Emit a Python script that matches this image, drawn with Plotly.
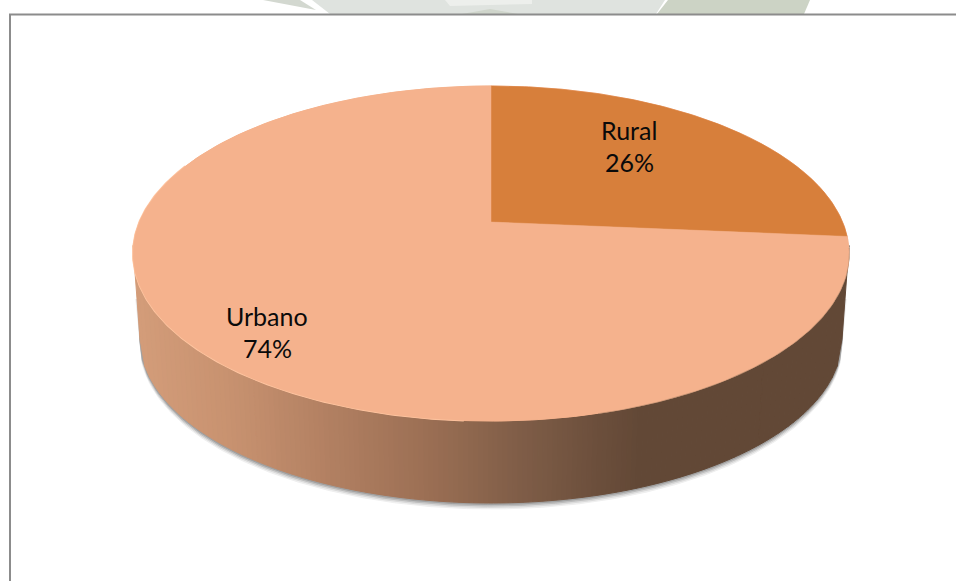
import numpy as np
import plotly.graph_objects as go

# share of population by area
categories = ["Rural", "Urbano"]
values = [26.4, 73.6]
labels = ["26%", "74%"]
colors = ["#D77F3B", "#F5B28D"]

W, H = 956, 581

# top face: circle seen in perspective, apex of the wedges at (CX, CY)
CX, CY = 491, 222
A, B, K = 351.6, 161.6, 0.188
# bottom rim of the wall
CX2, CY2, RX2, RY2 = 491, 339, 351, 164


def rim(theta):
    # theta clockwise from 12 o'clock
    u, v = np.sin(theta), np.cos(theta)
    w = 1 + K * v
    return CX + A * u / w, CY - B * v / w


def top_front(x):
    # front edge of the top face, from its ellipse
    return 253.5 + 167.5 * np.sqrt(np.clip(1 - ((x - 491) / 358) ** 2, 0, 1))


def bottom_front(x, dy=0.0):
    return CY2 + dy + RY2 * np.sqrt(np.clip(1 - ((x - CX2) / RX2) ** 2, 0, 1))


def wall_color(x):
    stops_x = [133, 230, 330, 430, 520, 600, 645, 849]
    stops_r = [212, 200, 178, 155, 128, 108, 98, 98]
    stops_g = [157, 146, 128, 111, 94, 79, 72, 72]
    stops_b = [122, 112, 98, 84, 72, 60, 54, 54]
    return "rgb(%d,%d,%d)" % (np.interp(x, stops_x, stops_r),
                              np.interp(x, stops_x, stops_g),
                              np.interp(x, stops_x, stops_b))


fig = go.Figure()

# soft shadow under the wall
for off, col in [(6, "#EFEFEF"), (4.5, "#DADADA"), (3, "#BDBDBD"), (1.5, "#A0A0A0")]:
    xs = np.linspace(CX2 - RX2, CX2 + RX2, 300)
    ys = bottom_front(xs, off)
    xx = np.concatenate([[CX2 - RX2 - off * 0.7], xs, [CX2 + RX2 + off * 0.7]])
    yy = np.concatenate([[CY2 - 40], ys, [CY2 - 40]])
    fig.add_trace(go.Scatter(x=xx, y=yy, mode="lines", fill="toself", fillcolor=col,
                             line=dict(color=col, width=1), hoverinfo="skip"))

# wall, in thin vertical strips; the bottom rim is narrower than the top one
edges = np.linspace(133, 849, 144)
for x0, x1 in zip(edges[:-1], edges[1:]):
    col = wall_color((x0 + x1) / 2)
    b0 = CX2 + (x0 - 491) * RX2 / 358
    b1 = CX2 + (x1 - 491) * RX2 / 358
    xa = [x0, x1, b1, b0, x0]
    ya = [top_front(x0) - 8, top_front(x1) - 8, bottom_front(b1), bottom_front(b0), top_front(x0) - 8]
    fig.add_trace(go.Scatter(x=xa, y=ya, mode="lines", fill="toself", fillcolor=col,
                             line=dict(color=col, width=1), hoverinfo="skip"))

# edge of the top face: light on the left, dark on the right
t_all = np.linspace(0, 2 * np.pi, 500)
ex, ey = rim(t_all)
fig.add_trace(go.Scatter(x=ex, y=ey, mode="lines", fill="toself", fillcolor=colors[1],
                         line=dict(color=colors[1], width=1), hoverinfo="skip"))
t_left = np.linspace(np.pi * 1.02, np.pi * 1.62, 200)
lx, ly = rim(t_left)
fig.add_trace(go.Scatter(x=lx, y=ly, mode="lines", line=dict(color="#FFC6A2", width=2),
                         hoverinfo="skip"))
t_right = np.linspace(np.pi * 0.55, np.pi * 0.92, 200)
rx, ry = rim(t_right)
fig.add_trace(go.Scatter(x=rx, y=ry, mode="lines", line=dict(color="#A27C62", width=1.5),
                         hoverinfo="skip"))

# wedges, from the values
total = sum(values)
start = 0.0
for i in range(len(values)):
    end = start + values[i] / total * 2 * np.pi
    t = np.linspace(start, end, 300)
    wx, wy = rim(t)
    px = np.concatenate([[CX], wx, [CX]])
    py = np.concatenate([[CY], wy, [CY]])
    fig.add_trace(go.Scatter(x=px, y=py, mode="lines", fill="toself", fillcolor=colors[i],
                             line=dict(color=colors[i], width=0.5), hoverinfo="skip"))
    start = end

# name and percentage as separate lines, 32px apart
label_pos = [(629, 130), (267, 316)]
for i in range(len(categories)):
    for line, dy in [(categories[i], 0), (labels[i], 32)]:
        fig.add_annotation(x=label_pos[i][0], y=label_pos[i][1] + dy, text=line, showarrow=False,
                           font=dict(family="Lato", size=25, color="#0A0A0A"))

# frame and the faint watermark cut off above it
shapes = [
    dict(type="path", path="M263 0 L300 0 L316 10 Z", fillcolor="#D3D8D0", line_width=0),
    dict(type="path", path="M312 0 L665 0 L656 14 L330 14 Z", fillcolor="#DFE3DF", line_width=0),
    dict(type="path", path="M445 0 L532 0 L532 4 L450 6 Z", fillcolor="#EDEFEC", line_width=0),
    dict(type="path", path="M462 14 L490 9 L518 14 Z", fillcolor="#CFD5CB", line_width=0),
    dict(type="path", path="M668 0 L810 0 L804 14 L657 14 Z", fillcolor="#CCD3C5", line_width=0),
    dict(type="line", x0=10, x1=10, y0=14, y1=H, line=dict(color="#8C8C8C", width=2)),
    dict(type="line", x0=9, x1=W, y0=14.5, y1=14.5, line=dict(color="#8C8C8C", width=2)),
]

fig.update_layout(
    width=W, height=H,
    margin=dict(l=0, r=0, t=0, b=0),
    paper_bgcolor="white", plot_bgcolor="white",
    showlegend=False,
    shapes=shapes,
    xaxis=dict(range=[0, W], visible=False, fixedrange=True),
    yaxis=dict(range=[H, 0], visible=False, fixedrange=True),
)

fig.write_html("out.html", config=dict(displayModeBar=False),
               post_script="document.body.style.margin='0';document.body.style.overflow='hidden';")
